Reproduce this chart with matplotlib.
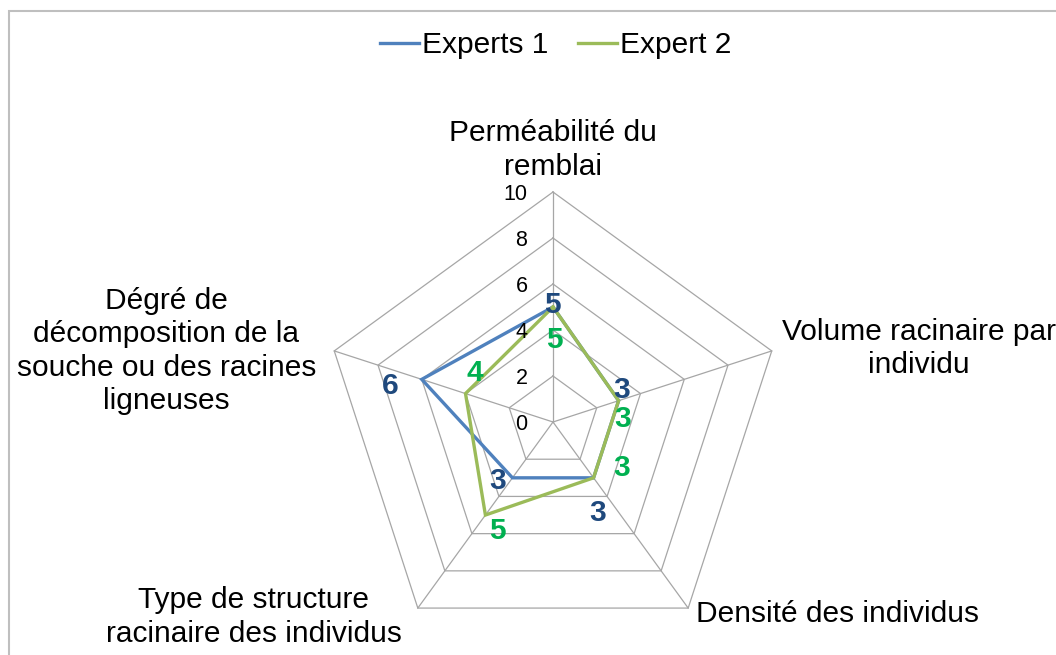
import numpy as np
import matplotlib
matplotlib.use("Agg")
import matplotlib.pyplot as plt
from matplotlib.patches import Rectangle

# ---- data ----
categories = ["Perméabilité du\nremblai",
              "Volume racinaire par\nindividu",
              "Densité des individus",
              "Type de structure\nracinaire des individus",
              "Dégré de\ndécomposition de la\nsouche ou des racines\nligneuses"]
experts1 = [5, 3, 3, 3, 6]
expert2 = [5, 3, 3, 5, 4]
series_names = ["Experts 1", "Expert 2"]
r_ticks = [0, 2, 4, 6, 8, 10]

# ---- style ----
plt.rcParams['font.family'] = ['Liberation Sans', 'DejaVu Sans']
W, H = 1056, 655
fig = plt.figure(figsize=(W / 100, H / 100), dpi=100)
fig.patch.set_facecolor('white')

cx, cy, R = 553, 422, 230
ax = fig.add_axes([(cx - R) / W, (H - cy - R) / H, 2 * R / W, 2 * R / H], polar=True)
ax.set_theta_offset(np.pi / 2)
ax.set_theta_direction(-1)
ax.set_ylim(0, 10)
ax.grid(False)
ax.spines['polar'].set_visible(False)
ax.set_xticks([])
ax.set_yticks([])
ax.patch.set_alpha(0)

n = len(categories)
theta = np.arange(n) * 2 * np.pi / n
theta_c = np.append(theta, theta[0])

grid_col = '#A6A6A6'
for rv in r_ticks[1:]:
    ax.plot(theta_c, [rv] * (n + 1), color=grid_col, lw=0.9, clip_on=False, zorder=1)
for t in theta:
    ax.plot([t, t], [0, r_ticks[-1]], color=grid_col, lw=0.9, clip_on=False, zorder=1)

c1, c2 = '#4F81BD', '#9BBB59'
l1, = ax.plot(theta_c, experts1 + experts1[:1], color=c1, lw=2.4, clip_on=False, zorder=3,
              solid_joinstyle='miter')
l2, = ax.plot(theta_c, expert2 + expert2[:1], color=c2, lw=2.4, clip_on=False, zorder=4,
              solid_joinstyle='miter')

# radial tick labels
for rv in r_ticks:
    ax.annotate(str(rv), xy=(0, rv), xytext=(-25.5, -7.8), textcoords='offset pixels',
                ha='right', va='baseline', fontsize=15.5, color='black', zorder=5)

# data labels (offsets of label centre from point, in pixels, up positive)
lab_fs = 21.5
half = 0.358 * lab_fs * 100 / 72
off1 = [(-1, 4.5), (3.5, 13.7), (4.4, -32), (-14.4, -0.2), (-31.8, -4)]
off2 = [(1, -30), (4.5, -15.3), (28.4, 12.8), (11.6, -13), (9.5, 23.6)]
for vals, offs, col in ((experts1, off1, '#1F497D'), (expert2, off2, '#00B050')):
    for t, v, (dx, dy) in zip(theta, vals, offs):
        ax.annotate(str(v), xy=(t, v), xytext=(dx, dy - half), textcoords='offset pixels',
                    ha='center', va='baseline', fontsize=lab_fs, fontweight='bold',
                    color=col, zorder=6)

# category labels
cat_offs = [(0, 42), (147, 2.5), (149, -6), (-164, -9), (-168, 0)]
for t, name, (dx, dy) in zip(theta, categories, cat_offs):
    ax.annotate(name, xy=(t, 10), xytext=(dx, dy), textcoords='offset pixels',
                ha='center', va='center', multialignment='center',
                fontsize=21.5, linespacing=1.25, color='black', annotation_clip=False)

# legend
fig.legend([l1, l2], series_names, loc='center', bbox_to_anchor=(556 / W, 1 - 45 / H),
           ncol=2, frameon=False, fontsize=21.5, handlelength=1.3, handletextpad=0.1,
           columnspacing=1.0, borderaxespad=0)

# chart border
fig.add_artist(Rectangle((8.5 / W, -0.1), 1.2, (H - 10.5) / H + 0.1, transform=fig.transFigure,
                         fill=False, ec='#BFBFBF', lw=1.5, zorder=0))

fig.savefig('out.png', dpi=100)
